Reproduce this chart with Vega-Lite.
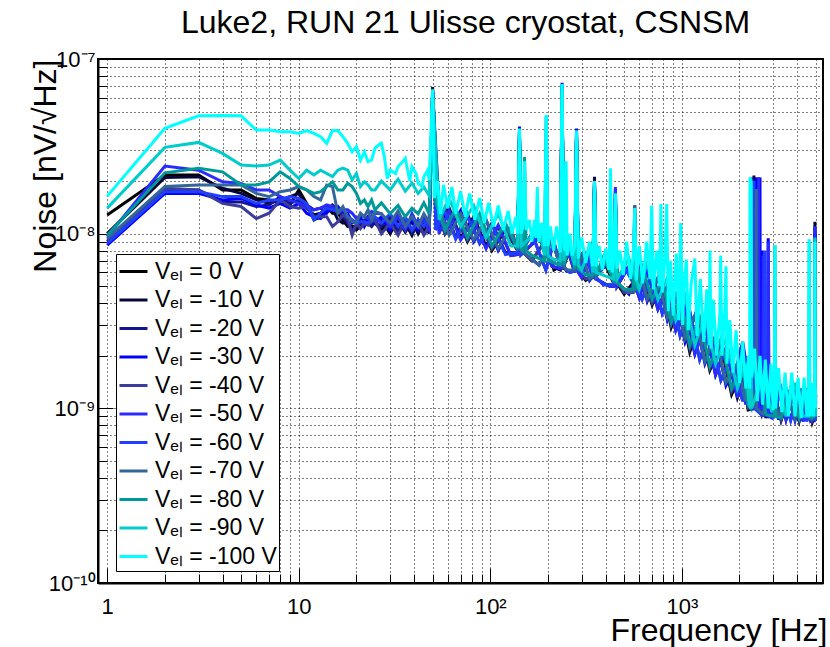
{
"$schema": "https://vega.github.io/schema/vega-lite/v6.json",
"autosize": "none",
"width": 725, "height": 524,
"padding": {"left": 98, "top": 59, "right": 7, "bottom": 64},
"background": "white",
"config": {"view": {"stroke": "black", "strokeWidth": 2}, "font": "Liberation Sans"},
"data": {"values": [
{"f":1,"s":"0","n":1.28e-8},{"f":2,"s":"0","n":2.17e-8},{"f":3,"s":"0","n":2.17e-8},{"f":4,"s":"0","n":1.78e-8},{"f":5,"s":"0","n":1.78e-8},{"f":6,"s":"0","n":1.59e-8},{"f":7,"s":"0","n":1.56e-8},{"f":8,"s":"0","n":1.49e-8},{"f":9,"s":"0","n":1.46e-8},{"f":10,"s":"0","n":1.78e-8},{"f":11,"s":"0","n":1.49e-8},{"f":12,"s":"0","n":1.2e-8},{"f":13,"s":"0","n":1.25e-8},{"f":14,"s":"0","n":1.43e-8},{"f":15,"s":"0","n":1.31e-8},{"f":16,"s":"0","n":1.31e-8},{"f":17,"s":"0","n":1.2e-8},{"f":18,"s":"0","n":1.1e-8},{"f":19,"s":"0","n":1.1e-8},{"f":20,"s":"0","n":1.1e-8},{"f":21,"s":"0","n":1.2e-8},{"f":22,"s":"0","n":1.17e-8},{"f":23,"s":"0","n":1.25e-8},{"f":24,"s":"0","n":1.15e-8},{"f":25,"s":"0","n":1.15e-8},{"f":27,"s":"0","n":1.05e-8},{"f":30,"s":"0","n":1.2e-8},{"f":33,"s":"0","n":1.0e-8},{"f":36,"s":"0","n":1.15e-8},{"f":39,"s":"0","n":9.8e-9},{"f":42,"s":"0","n":1.2e-8},{"f":45,"s":"0","n":1.05e-8},{"f":48,"s":"0","n":1.15e-8},
{"f":50,"s":"0","n":6.6e-8},{"f":52,"s":"0","n":1.45e-8},{"f":58,"s":"0","n":1.0e-8},{"f":66,"s":"0","n":1.3e-8},{"f":76,"s":"0","n":9e-9},{"f":88,"s":"0","n":1.2e-8},{"f":102,"s":"0","n":8e-9},{"f":120,"s":"0","n":1.05e-8},{"f":139,"s":"0","n":8e-9},{"f":142,"s":"0","n":3.6e-8},{"f":145,"s":"0","n":8e-9},{"f":165,"s":"0","n":7e-9},{"f":195,"s":"0","n":9.2e-9},{"f":215,"s":"0","n":6.2e-9},{"f":232,"s":"0","n":6.5e-9},{"f":237,"s":"0","n":6.8e-8},{"f":242,"s":"0","n":6.5e-9},{"f":260,"s":"0","n":8.2e-9},{"f":276,"s":"0","n":6.2e-9},{"f":282,"s":"0","n":3.7e-8},{"f":288,"s":"0","n":6.2e-9},{"f":315,"s":"0","n":5.4e-9},{"f":343,"s":"0","n":5.8e-9},{"f":350,"s":"0","n":2.0e-8},{"f":357,"s":"0","n":5.8e-9},{"f":390,"s":"0","n":7e-9},{"f":441,"s":"0","n":5.2e-9},{"f":450,"s":"0","n":1.6e-8},{"f":459,"s":"0","n":5.2e-9},{"f":500,"s":"0","n":4.5e-9},{"f":620,"s":"0","n":6.1e-9},{"f":700,"s":"0","n":3.9e-9},{"f":790,"s":"0","n":5.2e-9},{"f":880,"s":"0","n":2.9e-9},{"f":980,"s":"0","n":4.0e-9},{"f":1100,"s":"0","n":2.1e-9},{"f":1240,"s":"0","n":3.1e-9},{"f":1400,"s":"0","n":1.65e-9},{"f":1600,"s":"0","n":2.3e-9},{"f":1820,"s":"0","n":1.2e-9},{"f":2080,"s":"0","n":1.65e-9},{"f":2220,"s":"0","n":9.8e-10},{"f":2440,"s":"0","n":1.0e-9},{"f":2450,"s":"0","n":2.0e-8},{"f":2460,"s":"0","n":1.0e-9},{"f":2600,"s":"0","n":1.35e-9},{"f":2750,"s":"0","n":8.8e-10},{"f":3000,"s":"0","n":1.3e-9},{"f":3300,"s":"0","n":8.5e-10},{"f":3700,"s":"0","n":1.25e-9},{"f":4100,"s":"0","n":8.4e-10},{"f":4500,"s":"0","n":1.25e-9},{"f":4800,"s":"0","n":8.3e-10},{"f":4930,"s":"0","n":9e-10},{"f":4955,"s":"0","n":1.0e-8},{"f":4975,"s":"0","n":9e-10},{"f":5000,"s":"0","n":1.2e-9},
{"f":1,"s":"-10","n":1.0e-8},{"f":2,"s":"-10","n":2.1e-8},{"f":3,"s":"-10","n":2.12e-8},{"f":4,"s":"-10","n":1.82e-8},{"f":5,"s":"-10","n":1.7e-8},{"f":6,"s":"-10","n":1.56e-8},{"f":7,"s":"-10","n":1.49e-8},{"f":8,"s":"-10","n":1.56e-8},{"f":9,"s":"-10","n":1.63e-8},{"f":10,"s":"-10","n":1.7e-8},{"f":11,"s":"-10","n":1.4e-8},{"f":12,"s":"-10","n":1.28e-8},{"f":13,"s":"-10","n":1.31e-8},{"f":14,"s":"-10","n":1.37e-8},{"f":15,"s":"-10","n":1.4e-8},{"f":16,"s":"-10","n":1.2e-8},{"f":17,"s":"-10","n":1.15e-8},{"f":18,"s":"-10","n":1.17e-8},{"f":19,"s":"-10","n":1.05e-8},{"f":20,"s":"-10","n":1.05e-8},{"f":21,"s":"-10","n":1.1e-8},{"f":22,"s":"-10","n":1.15e-8},{"f":23,"s":"-10","n":1.17e-8},{"f":24,"s":"-10","n":1.2e-8},{"f":25,"s":"-10","n":1.22e-8},{"f":27,"s":"-10","n":1.2e-8},{"f":30,"s":"-10","n":1.0e-8},{"f":33,"s":"-10","n":1.2e-8},{"f":36,"s":"-10","n":1.02e-8},{"f":39,"s":"-10","n":1.18e-8},{"f":42,"s":"-10","n":1.0e-8},{"f":45,"s":"-10","n":1.15e-8},{"f":48,"s":"-10","n":1.0e-8},
{"f":50,"s":"-10","n":6.9e-8},{"f":54,"s":"-10","n":1.05e-8},{"f":61,"s":"-10","n":1.4e-8},{"f":70,"s":"-10","n":9.5e-9},{"f":82,"s":"-10","n":1.25e-8},{"f":95,"s":"-10","n":8.5e-9},{"f":110,"s":"-10","n":1.1e-8},{"f":128,"s":"-10","n":7.5e-9},{"f":139,"s":"-10","n":7.6e-9},{"f":142,"s":"-10","n":3.5e-8},{"f":145,"s":"-10","n":7.6e-9},{"f":180,"s":"-10","n":9.5e-9},{"f":210,"s":"-10","n":6.5e-9},{"f":232,"s":"-10","n":6.2e-9},{"f":237,"s":"-10","n":6.5e-8},{"f":242,"s":"-10","n":6.2e-9},{"f":250,"s":"-10","n":8.5e-9},{"f":276,"s":"-10","n":6.0e-9},{"f":282,"s":"-10","n":3.5e-8},{"f":288,"s":"-10","n":6.0e-9},{"f":300,"s":"-10","n":5.6e-9},{"f":330,"s":"-10","n":7.5e-9},{"f":343,"s":"-10","n":5.5e-9},{"f":350,"s":"-10","n":2.12e-8},{"f":357,"s":"-10","n":5.5e-9},{"f":420,"s":"-10","n":5.0e-9},{"f":441,"s":"-10","n":5.0e-9},{"f":450,"s":"-10","n":1.6e-8},{"f":459,"s":"-10","n":5.0e-9},{"f":530,"s":"-10","n":6.5e-9},{"f":600,"s":"-10","n":4.3e-9},{"f":660,"s":"-10","n":6.1e-9},{"f":750,"s":"-10","n":3.7e-9},{"f":840,"s":"-10","n":5.0e-9},{"f":930,"s":"-10","n":2.8e-9},{"f":1040,"s":"-10","n":3.8e-9},{"f":1170,"s":"-10","n":2.05e-9},{"f":1320,"s":"-10","n":3.0e-9},{"f":1500,"s":"-10","n":1.55e-9},{"f":1700,"s":"-10","n":2.2e-9},{"f":1950,"s":"-10","n":1.15e-9},{"f":2150,"s":"-10","n":1.6e-9},{"f":2250,"s":"-10","n":1.0e-9},{"f":2370,"s":"-10","n":1.0e-9},{"f":2380,"s":"-10","n":2.15e-8},{"f":2390,"s":"-10","n":1.0e-9},{"f":2415,"s":"-10","n":1.0e-9},{"f":2425,"s":"-10","n":2.0e-8},{"f":2435,"s":"-10","n":1.0e-9},{"f":2465,"s":"-10","n":1.0e-9},{"f":2475,"s":"-10","n":2.1e-8},{"f":2485,"s":"-10","n":1.0e-9},{"f":2510,"s":"-10","n":1.0e-9},{"f":2520,"s":"-10","n":2.1e-8},{"f":2530,"s":"-10","n":1.0e-9},{"f":2650,"s":"-10","n":1.4e-9},{"f":2950,"s":"-10","n":8.8e-10},{"f":3200,"s":"-10","n":1.3e-9},{"f":3500,"s":"-10","n":8.6e-10},{"f":3900,"s":"-10","n":1.3e-9},{"f":4300,"s":"-10","n":8.5e-10},{"f":4700,"s":"-10","n":1.25e-9},{"f":4930,"s":"-10","n":8.6e-10},{"f":4955,"s":"-10","n":1.17e-8},{"f":4975,"s":"-10","n":8.6e-10},{"f":5000,"s":"-10","n":9e-10},
{"f":1,"s":"-20","n":9.0e-9},{"f":2,"s":"-20","n":1.78e-8},{"f":3,"s":"-20","n":1.78e-8},{"f":4,"s":"-20","n":1.52e-8},{"f":5,"s":"-20","n":1.52e-8},{"f":6,"s":"-20","n":1.43e-8},{"f":7,"s":"-20","n":1.46e-8},{"f":8,"s":"-20","n":1.63e-8},{"f":9,"s":"-20","n":1.49e-8},{"f":10,"s":"-20","n":1.56e-8},{"f":11,"s":"-20","n":1.46e-8},{"f":12,"s":"-20","n":1.37e-8},{"f":13,"s":"-20","n":1.4e-8},{"f":14,"s":"-20","n":1.31e-8},{"f":15,"s":"-20","n":1.46e-8},{"f":16,"s":"-20","n":1.37e-8},{"f":17,"s":"-20","n":1.25e-8},{"f":18,"s":"-20","n":1.15e-8},{"f":19,"s":"-20","n":1.05e-8},{"f":20,"s":"-20","n":1.1e-8},{"f":21,"s":"-20","n":1.15e-8},{"f":22,"s":"-20","n":1.2e-8},{"f":23,"s":"-20","n":1.15e-8},{"f":24,"s":"-20","n":1.1e-8},{"f":25,"s":"-20","n":1.17e-8},{"f":27,"s":"-20","n":1.1e-8},{"f":30,"s":"-20","n":1.25e-8},{"f":33,"s":"-20","n":1.05e-8},{"f":36,"s":"-20","n":1.2e-8},{"f":39,"s":"-20","n":1.0e-8},{"f":42,"s":"-20","n":1.15e-8},{"f":45,"s":"-20","n":1.0e-8},{"f":48,"s":"-20","n":1.1e-8},
{"f":50,"s":"-20","n":6.4e-8},{"f":52,"s":"-20","n":1.05e-8},{"f":58,"s":"-20","n":1.4e-8},{"f":66,"s":"-20","n":9.5e-9},{"f":76,"s":"-20","n":1.3e-8},{"f":88,"s":"-20","n":8.8e-9},{"f":102,"s":"-20","n":1.15e-8},{"f":120,"s":"-20","n":7.8e-9},{"f":139,"s":"-20","n":7.8e-9},{"f":142,"s":"-20","n":3.8e-8},{"f":145,"s":"-20","n":7.8e-9},{"f":165,"s":"-20","n":1.0e-8},{"f":195,"s":"-20","n":6.2e-9},{"f":215,"s":"-20","n":9e-9},{"f":232,"s":"-20","n":6.4e-9},{"f":237,"s":"-20","n":6.6e-8},{"f":242,"s":"-20","n":6.4e-9},{"f":260,"s":"-20","n":6.0e-9},{"f":276,"s":"-20","n":6.1e-9},{"f":282,"s":"-20","n":3.6e-8},{"f":288,"s":"-20","n":6.1e-9},{"f":315,"s":"-20","n":7.6e-9},{"f":343,"s":"-20","n":5.6e-9},{"f":350,"s":"-20","n":1.9e-8},{"f":357,"s":"-20","n":5.6e-9},{"f":390,"s":"-20","n":5.1e-9},{"f":441,"s":"-20","n":5.1e-9},{"f":450,"s":"-20","n":1.5e-8},{"f":459,"s":"-20","n":5.1e-9},{"f":500,"s":"-20","n":6.6e-9},{"f":620,"s":"-20","n":4.2e-9},{"f":700,"s":"-20","n":6.0e-9},{"f":790,"s":"-20","n":3.5e-9},{"f":880,"s":"-20","n":4.7e-9},{"f":980,"s":"-20","n":2.6e-9},{"f":1100,"s":"-20","n":3.6e-9},{"f":1240,"s":"-20","n":1.9e-9},{"f":1400,"s":"-20","n":2.8e-9},{"f":1600,"s":"-20","n":1.45e-9},{"f":1820,"s":"-20","n":2.0e-9},{"f":2080,"s":"-20","n":1.1e-9},{"f":2220,"s":"-20","n":1.55e-9},{"f":2370,"s":"-20","n":1.0e-9},{"f":2380,"s":"-20","n":2.05e-8},{"f":2390,"s":"-20","n":1.0e-9},{"f":2490,"s":"-20","n":1.0e-9},{"f":2500,"s":"-20","n":2.0e-8},{"f":2510,"s":"-20","n":1.0e-9},{"f":2600,"s":"-20","n":9.2e-10},{"f":2750,"s":"-20","n":1.35e-9},{"f":3000,"s":"-20","n":8.8e-10},{"f":3300,"s":"-20","n":1.3e-9},{"f":3700,"s":"-20","n":8.6e-10},{"f":4100,"s":"-20","n":1.3e-9},{"f":4500,"s":"-20","n":8.5e-10},{"f":4800,"s":"-20","n":1.25e-9},{"f":4930,"s":"-20","n":8.5e-10},{"f":4955,"s":"-20","n":1.1e-8},{"f":4975,"s":"-20","n":8.5e-10},{"f":5000,"s":"-20","n":8.5e-10},
{"f":1,"s":"-30","n":8.6e-9},{"f":2,"s":"-30","n":1.7e-8},{"f":3,"s":"-30","n":1.7e-8},{"f":4,"s":"-30","n":1.56e-8},{"f":5,"s":"-30","n":1.59e-8},{"f":6,"s":"-30","n":1.46e-8},{"f":7,"s":"-30","n":1.4e-8},{"f":8,"s":"-30","n":1.49e-8},{"f":9,"s":"-30","n":1.4e-8},{"f":10,"s":"-30","n":1.49e-8},{"f":11,"s":"-30","n":1.31e-8},{"f":12,"s":"-30","n":1.25e-8},{"f":13,"s":"-30","n":1.22e-8},{"f":14,"s":"-30","n":1.34e-8},{"f":15,"s":"-30","n":1.37e-8},{"f":16,"s":"-30","n":1.43e-8},{"f":17,"s":"-30","n":1.31e-8},{"f":18,"s":"-30","n":1.31e-8},{"f":19,"s":"-30","n":1.15e-8},{"f":20,"s":"-30","n":1.17e-8},{"f":21,"s":"-30","n":1.25e-8},{"f":22,"s":"-30","n":1.1e-8},{"f":23,"s":"-30","n":1.2e-8},{"f":24,"s":"-30","n":1.25e-8},{"f":25,"s":"-30","n":1.15e-8},{"f":27,"s":"-30","n":1.25e-8},{"f":30,"s":"-30","n":1.05e-8},{"f":33,"s":"-30","n":1.3e-8},{"f":36,"s":"-30","n":1.1e-8},{"f":39,"s":"-30","n":1.2e-8},{"f":42,"s":"-30","n":1.05e-8},{"f":45,"s":"-30","n":1.25e-8},{"f":48,"s":"-30","n":1.05e-8},
{"f":50,"s":"-30","n":6.5e-8},{"f":54,"s":"-30","n":1.45e-8},{"f":61,"s":"-30","n":1.0e-8},{"f":70,"s":"-30","n":1.35e-8},{"f":82,"s":"-30","n":9e-9},{"f":95,"s":"-30","n":1.2e-8},{"f":110,"s":"-30","n":8e-9},{"f":128,"s":"-30","n":1.08e-8},{"f":139,"s":"-30","n":8e-9},{"f":142,"s":"-30","n":4.1e-8},{"f":145,"s":"-30","n":8e-9},{"f":180,"s":"-30","n":6.6e-9},{"f":210,"s":"-30","n":9.2e-9},{"f":232,"s":"-30","n":6.5e-9},{"f":237,"s":"-30","n":7.3e-8},{"f":242,"s":"-30","n":6.5e-9},{"f":250,"s":"-30","n":6.1e-9},{"f":276,"s":"-30","n":6.2e-9},{"f":282,"s":"-30","n":4.0e-8},{"f":288,"s":"-30","n":6.2e-9},{"f":300,"s":"-30","n":7.8e-9},{"f":330,"s":"-30","n":5.4e-9},{"f":343,"s":"-30","n":5.7e-9},{"f":350,"s":"-30","n":1.9e-8},{"f":357,"s":"-30","n":5.7e-9},{"f":420,"s":"-30","n":7.0e-9},{"f":441,"s":"-30","n":5.2e-9},{"f":450,"s":"-30","n":1.8e-8},{"f":459,"s":"-30","n":5.2e-9},{"f":530,"s":"-30","n":4.5e-9},{"f":600,"s":"-30","n":6.3e-9},{"f":660,"s":"-30","n":4.1e-9},{"f":750,"s":"-30","n":5.6e-9},{"f":840,"s":"-30","n":3.2e-9},{"f":930,"s":"-30","n":4.4e-9},{"f":1040,"s":"-30","n":2.4e-9},{"f":1170,"s":"-30","n":3.4e-9},{"f":1320,"s":"-30","n":1.8e-9},{"f":1500,"s":"-30","n":2.6e-9},{"f":1700,"s":"-30","n":1.35e-9},{"f":1950,"s":"-30","n":1.8e-9},{"f":2080,"s":"-30","n":2.4e-9},{"f":2150,"s":"-30","n":1.9e-9},{"f":2250,"s":"-30","n":1.5e-9},{"f":2290,"s":"-30","n":1.0e-9},{"f":2300,"s":"-30","n":2.1e-8},{"f":2310,"s":"-30","n":1.0e-9},{"f":2440,"s":"-30","n":1.0e-9},{"f":2450,"s":"-30","n":2.1e-8},{"f":2460,"s":"-30","n":1.0e-9},{"f":2550,"s":"-30","n":1.0e-9},{"f":2560,"s":"-30","n":2.1e-8},{"f":2570,"s":"-30","n":1.0e-9},{"f":2620,"s":"-30","n":1.0e-9},{"f":2630,"s":"-30","n":8e-9},{"f":2640,"s":"-30","n":1.0e-9},{"f":2650,"s":"-30","n":9.2e-10},{"f":2800,"s":"-30","n":9e-10},{"f":2826,"s":"-30","n":9.4e-9},{"f":2850,"s":"-30","n":9e-10},{"f":2950,"s":"-30","n":1.3e-9},{"f":3200,"s":"-30","n":8.6e-10},{"f":3500,"s":"-30","n":1.3e-9},{"f":3900,"s":"-30","n":8.5e-10},{"f":4300,"s":"-30","n":1.3e-9},{"f":4700,"s":"-30","n":8.5e-10},{"f":4930,"s":"-30","n":9e-10},{"f":4955,"s":"-30","n":1.0e-8},{"f":4975,"s":"-30","n":9e-10},{"f":5000,"s":"-30","n":1.1e-9},
{"f":1,"s":"-40","n":9.2e-9},{"f":2,"s":"-40","n":1.82e-8},{"f":3,"s":"-40","n":1.78e-8},{"f":4,"s":"-40","n":1.49e-8},{"f":5,"s":"-40","n":1.43e-8},{"f":6,"s":"-40","n":1.22e-8},{"f":7,"s":"-40","n":1.31e-8},{"f":8,"s":"-40","n":1.56e-8},{"f":9,"s":"-40","n":1.43e-8},{"f":10,"s":"-40","n":1.4e-8},{"f":11,"s":"-40","n":1.43e-8},{"f":12,"s":"-40","n":1.25e-8},{"f":13,"s":"-40","n":1.25e-8},{"f":14,"s":"-40","n":1.25e-8},{"f":15,"s":"-40","n":1.1e-8},{"f":16,"s":"-40","n":1.17e-8},{"f":17,"s":"-40","n":1.28e-8},{"f":18,"s":"-40","n":1.22e-8},{"f":19,"s":"-40","n":9.8e-9},{"f":20,"s":"-40","n":1.15e-8},{"f":21,"s":"-40","n":1.07e-8},{"f":22,"s":"-40","n":1.15e-8},{"f":23,"s":"-40","n":1.12e-8},{"f":24,"s":"-40","n":1.17e-8},{"f":25,"s":"-40","n":1.2e-8},{"f":27,"s":"-40","n":1.0e-8},{"f":30,"s":"-40","n":1.15e-8},{"f":33,"s":"-40","n":9.8e-9},{"f":36,"s":"-40","n":1.2e-8},{"f":39,"s":"-40","n":1.05e-8},{"f":42,"s":"-40","n":1.15e-8},{"f":45,"s":"-40","n":9.8e-9},{"f":48,"s":"-40","n":1.1e-8},
{"f":50,"s":"-40","n":6.2e-8},{"f":52,"s":"-40","n":1.4e-8},{"f":58,"s":"-40","n":1.0e-8},{"f":66,"s":"-40","n":1.3e-8},{"f":76,"s":"-40","n":9.2e-9},{"f":88,"s":"-40","n":1.2e-8},{"f":102,"s":"-40","n":8.2e-9},{"f":120,"s":"-40","n":1.1e-8},{"f":139,"s":"-40","n":8e-9},{"f":142,"s":"-40","n":3.4e-8},{"f":145,"s":"-40","n":8e-9},{"f":165,"s":"-40","n":7.0e-9},{"f":195,"s":"-40","n":9.2e-9},{"f":215,"s":"-40","n":6.4e-9},{"f":232,"s":"-40","n":6.5e-9},{"f":237,"s":"-40","n":6.2e-8},{"f":242,"s":"-40","n":6.5e-9},{"f":260,"s":"-40","n":8.4e-9},{"f":276,"s":"-40","n":6.2e-9},{"f":282,"s":"-40","n":3.4e-8},{"f":288,"s":"-40","n":6.2e-9},{"f":315,"s":"-40","n":5.5e-9},{"f":343,"s":"-40","n":5.7e-9},{"f":350,"s":"-40","n":1.8e-8},{"f":357,"s":"-40","n":5.7e-9},{"f":390,"s":"-40","n":7.1e-9},{"f":500,"s":"-40","n":4.6e-9},{"f":557,"s":"-40","n":4.6e-9},{"f":568,"s":"-40","n":1.45e-8},{"f":579,"s":"-40","n":4.6e-9},{"f":620,"s":"-40","n":6.2e-9},{"f":700,"s":"-40","n":4.0e-9},{"f":790,"s":"-40","n":5.3e-9},{"f":880,"s":"-40","n":3.0e-9},{"f":980,"s":"-40","n":4.1e-9},{"f":1100,"s":"-40","n":2.2e-9},{"f":1240,"s":"-40","n":3.2e-9},{"f":1400,"s":"-40","n":1.7e-9},{"f":1600,"s":"-40","n":2.4e-9},{"f":1820,"s":"-40","n":1.25e-9},{"f":2080,"s":"-40","n":1.7e-9},{"f":2220,"s":"-40","n":1.0e-9},{"f":2290,"s":"-40","n":1.0e-9},{"f":2300,"s":"-40","n":1.5e-8},{"f":2310,"s":"-40","n":1.0e-9},{"f":2600,"s":"-40","n":1.4e-9},{"f":2750,"s":"-40","n":9e-10},{"f":3000,"s":"-40","n":1.3e-9},{"f":3300,"s":"-40","n":8.6e-10},{"f":3700,"s":"-40","n":1.3e-9},{"f":4100,"s":"-40","n":8.6e-10},{"f":4500,"s":"-40","n":1.3e-9},{"f":4800,"s":"-40","n":8.5e-10},{"f":4930,"s":"-40","n":9e-10},{"f":4955,"s":"-40","n":9e-9},{"f":4975,"s":"-40","n":9e-10},{"f":5000,"s":"-40","n":1.2e-9},
{"f":1,"s":"-50","n":9.6e-9},{"f":2,"s":"-50","n":2.44e-8},{"f":3,"s":"-50","n":2.31e-8},{"f":4,"s":"-50","n":1.98e-8},{"f":5,"s":"-50","n":1.94e-8},{"f":6,"s":"-50","n":1.78e-8},{"f":7,"s":"-50","n":1.78e-8},{"f":8,"s":"-50","n":1.63e-8},{"f":9,"s":"-50","n":1.56e-8},{"f":10,"s":"-50","n":1.49e-8},{"f":11,"s":"-50","n":1.43e-8},{"f":12,"s":"-50","n":1.37e-8},{"f":13,"s":"-50","n":1.4e-8},{"f":14,"s":"-50","n":1.46e-8},{"f":15,"s":"-50","n":1.43e-8},{"f":16,"s":"-50","n":1.31e-8},{"f":17,"s":"-50","n":1.37e-8},{"f":18,"s":"-50","n":1.37e-8},{"f":19,"s":"-50","n":1.31e-8},{"f":20,"s":"-50","n":1.22e-8},{"f":21,"s":"-50","n":1.28e-8},{"f":22,"s":"-50","n":1.25e-8},{"f":23,"s":"-50","n":1.22e-8},{"f":24,"s":"-50","n":1.34e-8},{"f":25,"s":"-50","n":1.31e-8},{"f":27,"s":"-50","n":1.3e-8},{"f":30,"s":"-50","n":1.1e-8},{"f":33,"s":"-50","n":1.25e-8},{"f":36,"s":"-50","n":1.05e-8},{"f":39,"s":"-50","n":1.3e-8},{"f":42,"s":"-50","n":1.1e-8},{"f":45,"s":"-50","n":1.2e-8},{"f":48,"s":"-50","n":1.05e-8},
{"f":50,"s":"-50","n":6.3e-8},{"f":54,"s":"-50","n":1.0e-8},{"f":61,"s":"-50","n":1.35e-8},{"f":70,"s":"-50","n":9.2e-9},{"f":82,"s":"-50","n":1.2e-8},{"f":95,"s":"-50","n":8.2e-9},{"f":110,"s":"-50","n":1.12e-8},{"f":128,"s":"-50","n":7.5e-9},{"f":139,"s":"-50","n":7.6e-9},{"f":142,"s":"-50","n":3.9e-8},{"f":145,"s":"-50","n":7.6e-9},{"f":180,"s":"-50","n":9.6e-9},{"f":210,"s":"-50","n":6.5e-9},{"f":232,"s":"-50","n":6.3e-9},{"f":237,"s":"-50","n":7.0e-8},{"f":242,"s":"-50","n":6.3e-9},{"f":250,"s":"-50","n":8.5e-9},{"f":276,"s":"-50","n":6.0e-9},{"f":282,"s":"-50","n":3.8e-8},{"f":288,"s":"-50","n":6.0e-9},{"f":300,"s":"-50","n":5.6e-9},{"f":330,"s":"-50","n":7.5e-9},{"f":343,"s":"-50","n":5.5e-9},{"f":350,"s":"-50","n":1.8e-8},{"f":357,"s":"-50","n":5.5e-9},{"f":420,"s":"-50","n":5.0e-9},{"f":441,"s":"-50","n":5.0e-9},{"f":450,"s":"-50","n":1.85e-8},{"f":459,"s":"-50","n":5.0e-9},{"f":530,"s":"-50","n":6.5e-9},{"f":600,"s":"-50","n":4.3e-9},{"f":660,"s":"-50","n":6.1e-9},{"f":750,"s":"-50","n":3.7e-9},{"f":840,"s":"-50","n":5.0e-9},{"f":930,"s":"-50","n":2.8e-9},{"f":1040,"s":"-50","n":3.8e-9},{"f":1170,"s":"-50","n":2.05e-9},{"f":1320,"s":"-50","n":3.0e-9},{"f":1500,"s":"-50","n":1.55e-9},{"f":1700,"s":"-50","n":2.2e-9},{"f":1950,"s":"-50","n":1.15e-9},{"f":2080,"s":"-50","n":2.2e-9},{"f":2150,"s":"-50","n":1.05e-9},{"f":2250,"s":"-50","n":1.5e-9},{"f":2510,"s":"-50","n":1.0e-9},{"f":2520,"s":"-50","n":2.1e-8},{"f":2530,"s":"-50","n":1.0e-9},{"f":2640,"s":"-50","n":1.0e-9},{"f":2660,"s":"-50","n":7.5e-9},{"f":2680,"s":"-50","n":1.0e-9},{"f":2800,"s":"-50","n":9e-10},{"f":2826,"s":"-50","n":9.0e-9},{"f":2850,"s":"-50","n":9e-10},{"f":2950,"s":"-50","n":8.8e-10},{"f":3200,"s":"-50","n":1.3e-9},{"f":3500,"s":"-50","n":8.6e-10},{"f":3900,"s":"-50","n":1.3e-9},{"f":4300,"s":"-50","n":8.4e-10},{"f":4700,"s":"-50","n":1.25e-9},{"f":4930,"s":"-50","n":8.5e-10},{"f":4955,"s":"-50","n":1.1e-8},{"f":4975,"s":"-50","n":8.5e-10},{"f":5000,"s":"-50","n":1.0e-9},
{"f":1,"s":"-60","n":8.8e-9},{"f":2,"s":"-60","n":1.74e-8},{"f":3,"s":"-60","n":1.74e-8},{"f":4,"s":"-60","n":1.63e-8},{"f":5,"s":"-60","n":1.63e-8},{"f":6,"s":"-60","n":1.49e-8},{"f":7,"s":"-60","n":1.56e-8},{"f":8,"s":"-60","n":1.56e-8},{"f":9,"s":"-60","n":1.63e-8},{"f":10,"s":"-60","n":1.59e-8},{"f":11,"s":"-60","n":1.49e-8},{"f":12,"s":"-60","n":1.2e-8},{"f":13,"s":"-60","n":1.31e-8},{"f":14,"s":"-60","n":1.4e-8},{"f":15,"s":"-60","n":1.37e-8},{"f":16,"s":"-60","n":1.34e-8},{"f":17,"s":"-60","n":1.4e-8},{"f":18,"s":"-60","n":1.25e-8},{"f":19,"s":"-60","n":1.2e-8},{"f":20,"s":"-60","n":1.15e-8},{"f":21,"s":"-60","n":1.17e-8},{"f":22,"s":"-60","n":1.17e-8},{"f":23,"s":"-60","n":1.15e-8},{"f":24,"s":"-60","n":1.2e-8},{"f":25,"s":"-60","n":1.25e-8},{"f":27,"s":"-60","n":1.15e-8},{"f":30,"s":"-60","n":1.3e-8},{"f":33,"s":"-60","n":1.1e-8},{"f":36,"s":"-60","n":1.25e-8},{"f":39,"s":"-60","n":1.05e-8},{"f":42,"s":"-60","n":1.2e-8},{"f":45,"s":"-60","n":1.1e-8},{"f":48,"s":"-60","n":1.25e-8},
{"f":50,"s":"-60","n":6.4e-8},{"f":52,"s":"-60","n":1.05e-8},{"f":58,"s":"-60","n":1.35e-8},{"f":66,"s":"-60","n":9.3e-9},{"f":76,"s":"-60","n":1.25e-8},{"f":88,"s":"-60","n":8.8e-9},{"f":102,"s":"-60","n":1.12e-8},{"f":120,"s":"-60","n":7.6e-9},{"f":139,"s":"-60","n":7.8e-9},{"f":142,"s":"-60","n":3.7e-8},{"f":145,"s":"-60","n":7.8e-9},{"f":165,"s":"-60","n":1.0e-8},{"f":195,"s":"-60","n":6.2e-9},{"f":215,"s":"-60","n":9.0e-9},{"f":232,"s":"-60","n":6.4e-9},{"f":237,"s":"-60","n":6.9e-8},{"f":242,"s":"-60","n":6.4e-9},{"f":260,"s":"-60","n":6.0e-9},{"f":276,"s":"-60","n":6.1e-9},{"f":282,"s":"-60","n":3.9e-8},{"f":288,"s":"-60","n":6.1e-9},{"f":315,"s":"-60","n":7.5e-9},{"f":343,"s":"-60","n":5.6e-9},{"f":350,"s":"-60","n":1.95e-8},{"f":357,"s":"-60","n":5.6e-9},{"f":390,"s":"-60","n":5.1e-9},{"f":441,"s":"-60","n":5.1e-9},{"f":450,"s":"-60","n":1.75e-8},{"f":459,"s":"-60","n":5.1e-9},{"f":500,"s":"-60","n":6.5e-9},{"f":620,"s":"-60","n":4.2e-9},{"f":700,"s":"-60","n":6.0e-9},{"f":790,"s":"-60","n":3.5e-9},{"f":880,"s":"-60","n":4.6e-9},{"f":980,"s":"-60","n":2.6e-9},{"f":1100,"s":"-60","n":3.6e-9},{"f":1240,"s":"-60","n":1.9e-9},{"f":1400,"s":"-60","n":2.8e-9},{"f":1600,"s":"-60","n":1.45e-9},{"f":1820,"s":"-60","n":2.0e-9},{"f":2080,"s":"-60","n":1.1e-9},{"f":2220,"s":"-60","n":1.5e-9},{"f":2370,"s":"-60","n":1.0e-9},{"f":2380,"s":"-60","n":2.0e-8},{"f":2390,"s":"-60","n":1.0e-9},{"f":2600,"s":"-60","n":9.2e-10},{"f":2700,"s":"-60","n":1.0e-9},{"f":2720,"s":"-60","n":8e-9},{"f":2740,"s":"-60","n":1.0e-9},{"f":2750,"s":"-60","n":1.35e-9},{"f":3000,"s":"-60","n":8.8e-10},{"f":3300,"s":"-60","n":1.3e-9},{"f":3700,"s":"-60","n":8.5e-10},{"f":4100,"s":"-60","n":1.25e-9},{"f":4500,"s":"-60","n":8.4e-10},{"f":4800,"s":"-60","n":1.25e-9},{"f":4930,"s":"-60","n":8.5e-10},{"f":4955,"s":"-60","n":9.5e-9},{"f":4975,"s":"-60","n":8.5e-10},{"f":5000,"s":"-60","n":9e-10},
{"f":1,"s":"-70","n":9.4e-9},{"f":2,"s":"-70","n":1.86e-8},{"f":3,"s":"-70","n":1.9e-8},{"f":4,"s":"-70","n":1.9e-8},{"f":5,"s":"-70","n":1.9e-8},{"f":6,"s":"-70","n":1.7e-8},{"f":7,"s":"-70","n":1.63e-8},{"f":8,"s":"-70","n":1.74e-8},{"f":9,"s":"-70","n":1.78e-8},{"f":10,"s":"-70","n":1.86e-8},{"f":11,"s":"-70","n":1.78e-8},{"f":12,"s":"-70","n":1.63e-8},{"f":13,"s":"-70","n":1.56e-8},{"f":14,"s":"-70","n":1.9e-8},{"f":15,"s":"-70","n":1.86e-8},{"f":16,"s":"-70","n":1.31e-8},{"f":17,"s":"-70","n":1.43e-8},{"f":18,"s":"-70","n":1.25e-8},{"f":19,"s":"-70","n":1.17e-8},{"f":20,"s":"-70","n":1.15e-8},{"f":21,"s":"-70","n":1.31e-8},{"f":22,"s":"-70","n":1.25e-8},{"f":23,"s":"-70","n":1.37e-8},{"f":24,"s":"-70","n":1.2e-8},{"f":25,"s":"-70","n":1.34e-8},{"f":27,"s":"-70","n":1.3e-8},{"f":30,"s":"-70","n":1.15e-8},{"f":33,"s":"-70","n":1.35e-8},{"f":36,"s":"-70","n":1.1e-8},{"f":39,"s":"-70","n":1.25e-8},{"f":42,"s":"-70","n":1.1e-8},{"f":45,"s":"-70","n":1.3e-8},{"f":48,"s":"-70","n":1.15e-8},
{"f":50,"s":"-70","n":6.1e-8},{"f":54,"s":"-70","n":1.4e-8},{"f":61,"s":"-70","n":9.8e-9},{"f":70,"s":"-70","n":1.3e-8},{"f":82,"s":"-70","n":9.2e-9},{"f":95,"s":"-70","n":1.2e-8},{"f":110,"s":"-70","n":8.2e-9},{"f":128,"s":"-70","n":1.08e-8},{"f":139,"s":"-70","n":8e-9},{"f":142,"s":"-70","n":3.3e-8},{"f":145,"s":"-70","n":8e-9},{"f":180,"s":"-70","n":6.6e-9},{"f":210,"s":"-70","n":9.2e-9},{"f":232,"s":"-70","n":6.5e-9},{"f":237,"s":"-70","n":6.0e-8},{"f":242,"s":"-70","n":6.5e-9},{"f":250,"s":"-70","n":6.2e-9},{"f":276,"s":"-70","n":6.2e-9},{"f":282,"s":"-70","n":3.3e-8},{"f":288,"s":"-70","n":6.2e-9},{"f":300,"s":"-70","n":7.8e-9},{"f":330,"s":"-70","n":5.5e-9},{"f":343,"s":"-70","n":5.7e-9},{"f":350,"s":"-70","n":1.7e-8},{"f":357,"s":"-70","n":5.7e-9},{"f":420,"s":"-70","n":7.2e-9},{"f":441,"s":"-70","n":5.2e-9},{"f":450,"s":"-70","n":1.4e-8},{"f":459,"s":"-70","n":5.2e-9},{"f":530,"s":"-70","n":4.6e-9},{"f":557,"s":"-70","n":4.7e-9},{"f":568,"s":"-70","n":1.46e-8},{"f":579,"s":"-70","n":4.7e-9},{"f":600,"s":"-70","n":6.3e-9},{"f":660,"s":"-70","n":4.2e-9},{"f":750,"s":"-70","n":5.6e-9},{"f":840,"s":"-70","n":3.3e-9},{"f":930,"s":"-70","n":4.4e-9},{"f":1040,"s":"-70","n":2.5e-9},{"f":1170,"s":"-70","n":3.4e-9},{"f":1320,"s":"-70","n":1.85e-9},{"f":1500,"s":"-70","n":2.6e-9},{"f":1700,"s":"-70","n":1.4e-9},{"f":1950,"s":"-70","n":1.8e-9},{"f":2150,"s":"-70","n":1.1e-9},{"f":2250,"s":"-70","n":1.5e-9},{"f":2440,"s":"-70","n":1.0e-9},{"f":2450,"s":"-70","n":1.8e-8},{"f":2460,"s":"-70","n":1.0e-9},{"f":2650,"s":"-70","n":9.3e-10},{"f":2950,"s":"-70","n":1.3e-9},{"f":3200,"s":"-70","n":8.8e-10},{"f":3500,"s":"-70","n":1.3e-9},{"f":3900,"s":"-70","n":8.7e-10},{"f":4300,"s":"-70","n":1.3e-9},{"f":4700,"s":"-70","n":8.7e-10},{"f":4930,"s":"-70","n":9e-10},{"f":4955,"s":"-70","n":9e-9},{"f":4975,"s":"-70","n":9e-10},{"f":5000,"s":"-70","n":9.5e-10},
{"f":1,"s":"-80","n":9.8e-9},{"f":2,"s":"-80","n":2.23e-8},{"f":3,"s":"-80","n":2.37e-8},{"f":4,"s":"-80","n":2.26e-8},{"f":5,"s":"-80","n":1.9e-8},{"f":6,"s":"-80","n":1.9e-8},{"f":7,"s":"-80","n":1.98e-8},{"f":8,"s":"-80","n":2.26e-8},{"f":9,"s":"-80","n":2.07e-8},{"f":10,"s":"-80","n":1.86e-8},{"f":11,"s":"-80","n":1.78e-8},{"f":12,"s":"-80","n":1.7e-8},{"f":13,"s":"-80","n":1.74e-8},{"f":14,"s":"-80","n":1.86e-8},{"f":15,"s":"-80","n":1.98e-8},{"f":16,"s":"-80","n":1.78e-8},{"f":17,"s":"-80","n":1.78e-8},{"f":18,"s":"-80","n":1.94e-8},{"f":19,"s":"-80","n":1.86e-8},{"f":20,"s":"-80","n":1.7e-8},{"f":21,"s":"-80","n":1.49e-8},{"f":22,"s":"-80","n":1.56e-8},{"f":23,"s":"-80","n":1.43e-8},{"f":24,"s":"-80","n":1.56e-8},{"f":25,"s":"-80","n":1.37e-8},{"f":27,"s":"-80","n":1.5e-8},{"f":30,"s":"-80","n":1.3e-8},{"f":33,"s":"-80","n":1.45e-8},{"f":36,"s":"-80","n":1.25e-8},{"f":39,"s":"-80","n":1.4e-8},{"f":42,"s":"-80","n":1.3e-8},{"f":45,"s":"-80","n":1.5e-8},{"f":48,"s":"-80","n":1.3e-8},
{"f":50,"s":"-80","n":6.0e-8},{"f":52,"s":"-80","n":1.5e-8},{"f":58,"s":"-80","n":1.05e-8},{"f":66,"s":"-80","n":1.4e-8},{"f":76,"s":"-80","n":9.5e-9},{"f":88,"s":"-80","n":1.3e-8},{"f":102,"s":"-80","n":8.5e-9},{"f":120,"s":"-80","n":1.15e-8},{"f":139,"s":"-80","n":8.2e-9},{"f":142,"s":"-80","n":3.5e-8},{"f":145,"s":"-80","n":8.2e-9},{"f":148,"s":"-80","n":8e-9},{"f":151,"s":"-80","n":2.75e-8},{"f":154,"s":"-80","n":8e-9},{"f":165,"s":"-80","n":7.5e-9},{"f":192,"s":"-80","n":7e-9},{"f":196,"s":"-80","n":4.7e-8},{"f":200,"s":"-80","n":7e-9},{"f":215,"s":"-80","n":6.8e-9},{"f":232,"s":"-80","n":6.6e-9},{"f":237,"s":"-80","n":6.5e-8},{"f":242,"s":"-80","n":6.6e-9},{"f":260,"s":"-80","n":8.8e-9},{"f":276,"s":"-80","n":6.3e-9},{"f":282,"s":"-80","n":3.6e-8},{"f":288,"s":"-80","n":6.3e-9},{"f":315,"s":"-80","n":5.8e-9},{"f":343,"s":"-80","n":5.8e-9},{"f":350,"s":"-80","n":1.8e-8},{"f":357,"s":"-80","n":5.8e-9},{"f":390,"s":"-80","n":7.4e-9},{"f":441,"s":"-80","n":5.3e-9},{"f":450,"s":"-80","n":1.6e-8},{"f":459,"s":"-80","n":5.3e-9},{"f":500,"s":"-80","n":4.8e-9},{"f":557,"s":"-80","n":4.8e-9},{"f":568,"s":"-80","n":1.3e-8},{"f":579,"s":"-80","n":4.8e-9},{"f":620,"s":"-80","n":6.5e-9},{"f":700,"s":"-80","n":4.2e-9},{"f":790,"s":"-80","n":5.5e-9},{"f":880,"s":"-80","n":3.1e-9},{"f":980,"s":"-80","n":4.3e-9},{"f":1100,"s":"-80","n":2.3e-9},{"f":1240,"s":"-80","n":3.3e-9},{"f":1400,"s":"-80","n":1.75e-9},{"f":1600,"s":"-80","n":2.5e-9},{"f":1820,"s":"-80","n":1.3e-9},{"f":2080,"s":"-80","n":1.75e-9},{"f":2220,"s":"-80","n":1.05e-9},{"f":2290,"s":"-80","n":1.0e-9},{"f":2300,"s":"-80","n":1.9e-8},{"f":2310,"s":"-80","n":1.0e-9},{"f":2600,"s":"-80","n":1.4e-9},{"f":2750,"s":"-80","n":9.2e-10},{"f":3040,"s":"-80","n":9e-10},{"f":3063,"s":"-80","n":8.6e-9},{"f":3090,"s":"-80","n":9e-10},{"f":3300,"s":"-80","n":8.8e-10},{"f":3700,"s":"-80","n":1.3e-9},{"f":4100,"s":"-80","n":8.8e-10},{"f":4500,"s":"-80","n":1.3e-9},{"f":4800,"s":"-80","n":8.8e-10},{"f":4930,"s":"-80","n":9e-10},{"f":4955,"s":"-80","n":9e-9},{"f":4975,"s":"-80","n":9e-10},{"f":5000,"s":"-80","n":1.0e-9},
{"f":1,"s":"-90","n":1.4e-8},{"f":2,"s":"-90","n":3.12e-8},{"f":3,"s":"-90","n":3.33e-8},{"f":4,"s":"-90","n":2.88e-8},{"f":5,"s":"-90","n":2.47e-8},{"f":6,"s":"-90","n":2.44e-8},{"f":7,"s":"-90","n":2.47e-8},{"f":8,"s":"-90","n":2.64e-8},{"f":9,"s":"-90","n":2.31e-8},{"f":10,"s":"-90","n":2.07e-8},{"f":11,"s":"-90","n":2.31e-8},{"f":12,"s":"-90","n":2.17e-8},{"f":13,"s":"-90","n":2.31e-8},{"f":14,"s":"-90","n":2.21e-8},{"f":15,"s":"-90","n":2.12e-8},{"f":16,"s":"-90","n":2.31e-8},{"f":17,"s":"-90","n":2.37e-8},{"f":18,"s":"-90","n":2.31e-8},{"f":19,"s":"-90","n":2.03e-8},{"f":20,"s":"-90","n":2.21e-8},{"f":21,"s":"-90","n":1.86e-8},{"f":22,"s":"-90","n":1.98e-8},{"f":23,"s":"-90","n":1.9e-8},{"f":24,"s":"-90","n":1.78e-8},{"f":25,"s":"-90","n":1.78e-8},{"f":27,"s":"-90","n":2.0e-8},{"f":30,"s":"-90","n":1.78e-8},{"f":33,"s":"-90","n":2.05e-8},{"f":36,"s":"-90","n":1.75e-8},{"f":39,"s":"-90","n":1.95e-8},{"f":42,"s":"-90","n":1.7e-8},{"f":45,"s":"-90","n":1.85e-8},{"f":48,"s":"-90","n":1.65e-8},
{"f":50,"s":"-90","n":6.6e-8},{"f":54,"s":"-90","n":1.2e-8},{"f":61,"s":"-90","n":1.6e-8},{"f":70,"s":"-90","n":1.1e-8},{"f":82,"s":"-90","n":1.45e-8},{"f":95,"s":"-90","n":9.5e-9},{"f":110,"s":"-90","n":1.3e-8},{"f":128,"s":"-90","n":8.5e-9},{"f":139,"s":"-90","n":8.5e-9},{"f":142,"s":"-90","n":3.9e-8},{"f":145,"s":"-90","n":8.5e-9},{"f":180,"s":"-90","n":1.05e-8},{"f":192,"s":"-90","n":7.5e-9},{"f":196,"s":"-90","n":4.7e-8},{"f":200,"s":"-90","n":7.5e-9},{"f":210,"s":"-90","n":7.2e-9},{"f":232,"s":"-90","n":7e-9},{"f":237,"s":"-90","n":7.1e-8},{"f":242,"s":"-90","n":7e-9},{"f":250,"s":"-90","n":9.5e-9},{"f":276,"s":"-90","n":6.6e-9},{"f":282,"s":"-90","n":3.8e-8},{"f":288,"s":"-90","n":6.6e-9},{"f":300,"s":"-90","n":6.2e-9},{"f":330,"s":"-90","n":8.2e-9},{"f":343,"s":"-90","n":6e-9},{"f":350,"s":"-90","n":1.9e-8},{"f":357,"s":"-90","n":6e-9},{"f":420,"s":"-90","n":5.6e-9},{"f":441,"s":"-90","n":5.5e-9},{"f":450,"s":"-90","n":1.7e-8},{"f":459,"s":"-90","n":5.5e-9},{"f":530,"s":"-90","n":7.2e-9},{"f":600,"s":"-90","n":4.8e-9},{"f":660,"s":"-90","n":6.8e-9},{"f":750,"s":"-90","n":4.2e-9},{"f":840,"s":"-90","n":5.6e-9},{"f":930,"s":"-90","n":3.2e-9},{"f":1040,"s":"-90","n":4.4e-9},{"f":1170,"s":"-90","n":2.3e-9},{"f":1320,"s":"-90","n":3.4e-9},{"f":1500,"s":"-90","n":1.8e-9},{"f":1700,"s":"-90","n":2.5e-9},{"f":1950,"s":"-90","n":1.3e-9},{"f":2150,"s":"-90","n":1.8e-9},{"f":2250,"s":"-90","n":1.05e-9},{"f":2290,"s":"-90","n":1.0e-9},{"f":2300,"s":"-90","n":2.0e-8},{"f":2310,"s":"-90","n":1.0e-9},{"f":2650,"s":"-90","n":1.5e-9},{"f":2950,"s":"-90","n":9.5e-10},{"f":3200,"s":"-90","n":1.4e-9},{"f":3500,"s":"-90","n":9e-10},{"f":3900,"s":"-90","n":1.4e-9},{"f":4300,"s":"-90","n":9e-10},{"f":4590,"s":"-90","n":9e-10},{"f":4624,"s":"-90","n":9e-9},{"f":4660,"s":"-90","n":9e-10},{"f":4700,"s":"-90","n":1.4e-9},{"f":4930,"s":"-90","n":9e-10},{"f":4955,"s":"-90","n":9.5e-9},{"f":4975,"s":"-90","n":9e-10},{"f":5000,"s":"-90","n":1.1e-9},
{"f":1,"s":"-100","n":1.64e-8},{"f":2,"s":"-100","n":4.01e-8},{"f":3,"s":"-100","n":4.73e-8},{"f":4,"s":"-100","n":4.75e-8},{"f":5,"s":"-100","n":4.73e-8},{"f":6,"s":"-100","n":3.92e-8},{"f":7,"s":"-100","n":3.92e-8},{"f":8,"s":"-100","n":3.83e-8},{"f":9,"s":"-100","n":3.83e-8},{"f":10,"s":"-100","n":3.75e-8},{"f":11,"s":"-100","n":3.89e-8},{"f":12,"s":"-100","n":3.75e-8},{"f":13,"s":"-100","n":3.59e-8},{"f":14,"s":"-100","n":3.29e-8},{"f":15,"s":"-100","n":3.89e-8},{"f":16,"s":"-100","n":3.89e-8},{"f":17,"s":"-100","n":3.59e-8},{"f":18,"s":"-100","n":3.29e-8},{"f":19,"s":"-100","n":2.94e-8},{"f":20,"s":"-100","n":3.15e-8},{"f":21,"s":"-100","n":2.64e-8},{"f":22,"s":"-100","n":2.94e-8},{"f":23,"s":"-100","n":2.58e-8},{"f":24,"s":"-100","n":2.64e-8},{"f":25,"s":"-100","n":3.08e-8},{"f":26,"s":"-100","n":3.21e-8},{"f":27,"s":"-100","n":3.3e-8},{"f":28,"s":"-100","n":2.75e-8},{"f":29,"s":"-100","n":2.07e-8},{"f":30,"s":"-100","n":2.31e-8},{"f":32,"s":"-100","n":2.21e-8},{"f":33,"s":"-100","n":2.42e-8},{"f":35,"s":"-100","n":2.6e-8},{"f":36,"s":"-100","n":2.7e-8},{"f":38,"s":"-100","n":2.0e-8},{"f":39,"s":"-100","n":2.42e-8},{"f":41,"s":"-100","n":2.2e-8},{"f":42,"s":"-100","n":1.94e-8},{"f":44,"s":"-100","n":1.86e-8},{"f":45,"s":"-100","n":2.12e-8},{"f":47,"s":"-100","n":2.3e-8},{"f":48,"s":"-100","n":2.03e-8},
{"f":50,"s":"-100","n":6.7e-8},{"f":51,"s":"-100","n":1.6e-8},{"f":53,"s":"-100","n":2.0e-8},{"f":55,"s":"-100","n":1.3e-8},{"f":57,"s":"-100","n":1.9e-8},{"f":60,"s":"-100","n":1.4e-8},{"f":63,"s":"-100","n":1.85e-8},{"f":66,"s":"-100","n":1.3e-8},{"f":70,"s":"-100","n":1.75e-8},{"f":74,"s":"-100","n":1.25e-8},{"f":78,"s":"-100","n":1.7e-8},{"f":83,"s":"-100","n":1.2e-8},{"f":88,"s":"-100","n":1.6e-8},{"f":93,"s":"-100","n":1.15e-8},{"f":98,"s":"-100","n":1.5e-8},{"f":104,"s":"-100","n":1.1e-8},{"f":110,"s":"-100","n":1.45e-8},{"f":117,"s":"-100","n":1.05e-8},{"f":124,"s":"-100","n":1.35e-8},{"f":130,"s":"-100","n":1.0e-8},{"f":136,"s":"-100","n":1.25e-8},{"f":139,"s":"-100","n":1.0e-8},{"f":142,"s":"-100","n":4.0e-8},{"f":145,"s":"-100","n":1.0e-8},{"f":148,"s":"-100","n":1.1e-8},{"f":151,"s":"-100","n":2.6e-8},{"f":154,"s":"-100","n":1.05e-8},{"f":160,"s":"-100","n":1.2e-8},{"f":165,"s":"-100","n":9e-9},{"f":170,"s":"-100","n":1.2e-8},{"f":173,"s":"-100","n":9.5e-9},{"f":176,"s":"-100","n":1.85e-8},{"f":179,"s":"-100","n":9e-9},{"f":185,"s":"-100","n":1.15e-8},{"f":192,"s":"-100","n":8.5e-9},{"f":196,"s":"-100","n":4.8e-8},{"f":200,"s":"-100","n":8.5e-9},{"f":206,"s":"-100","n":1.1e-8},{"f":214,"s":"-100","n":8e-9},{"f":222,"s":"-100","n":1.1e-8},{"f":232,"s":"-100","n":7.8e-9},{"f":237,"s":"-100","n":7.2e-8},{"f":242,"s":"-100","n":8.5e-9},{"f":246,"s":"-100","n":8e-9},{"f":249,"s":"-100","n":2.6e-8},{"f":252,"s":"-100","n":7.5e-9},{"f":260,"s":"-100","n":1.0e-8},{"f":268,"s":"-100","n":7.5e-9},{"f":276,"s":"-100","n":8.5e-9},{"f":282,"s":"-100","n":3.9e-8},{"f":288,"s":"-100","n":7.2e-9},{"f":300,"s":"-100","n":9.5e-9},{"f":315,"s":"-100","n":6.8e-9},{"f":330,"s":"-100","n":9e-9},{"f":343,"s":"-100","n":6.5e-9},{"f":350,"s":"-100","n":2.0e-8},{"f":357,"s":"-100","n":6.5e-9},{"f":370,"s":"-100","n":8.5e-9},{"f":385,"s":"-100","n":6.2e-9},{"f":400,"s":"-100","n":8.2e-9},{"f":416,"s":"-100","n":6.2e-9},{"f":424,"s":"-100","n":2.37e-8},{"f":432,"s":"-100","n":6e-9},{"f":441,"s":"-100","n":7e-9},{"f":450,"s":"-100","n":1.7e-8},{"f":459,"s":"-100","n":6.3e-9},{"f":475,"s":"-100","n":8e-9},{"f":495,"s":"-100","n":5.8e-9},{"f":515,"s":"-100","n":9e-9},{"f":540,"s":"-100","n":5.5e-9},{"f":557,"s":"-100","n":7.5e-9},{"f":568,"s":"-100","n":1.4e-8},{"f":579,"s":"-100","n":5.4e-9},{"f":600,"s":"-100","n":8.5e-9},{"f":625,"s":"-100","n":5.2e-9},{"f":655,"s":"-100","n":9e-9},{"f":682,"s":"-100","n":5.5e-9},{"f":696,"s":"-100","n":1.45e-8},{"f":710,"s":"-100","n":4.8e-9},{"f":740,"s":"-100","n":8e-9},{"f":765,"s":"-100","n":5e-9},{"f":778,"s":"-100","n":1.48e-8},{"f":790,"s":"-100","n":4.6e-9},{"f":815,"s":"-100","n":7e-9},{"f":834,"s":"-100","n":1.48e-8},{"f":850,"s":"-100","n":3.6e-9},{"f":875,"s":"-100","n":7e-9},{"f":900,"s":"-100","n":3.4e-9},{"f":936,"s":"-100","n":7.7e-9},{"f":965,"s":"-100","n":3.2e-9},{"f":987,"s":"-100","n":1.15e-8},{"f":1010,"s":"-100","n":3.0e-9},{"f":1030,"s":"-100","n":5.5e-9},{"f":1057,"s":"-100","n":7.1e-9},{"f":1080,"s":"-100","n":2.8e-9},{"f":1120,"s":"-100","n":5.2e-9},{"f":1170,"s":"-100","n":7.2e-9},{"f":1200,"s":"-100","n":2.6e-9},{"f":1250,"s":"-100","n":5.5e-9},{"f":1300,"s":"-100","n":2.4e-9},{"f":1350,"s":"-100","n":4.8e-9},{"f":1390,"s":"-100","n":2.3e-9},{"f":1403,"s":"-100","n":8e-9},{"f":1420,"s":"-100","n":2.2e-9},{"f":1460,"s":"-100","n":4.2e-9},{"f":1520,"s":"-100","n":2.0e-9},{"f":1580,"s":"-100","n":3.5e-9},{"f":1596,"s":"-100","n":7.5e-9},{"f":1620,"s":"-100","n":2.0e-9},{"f":1680,"s":"-100","n":3.8e-9},{"f":1700,"s":"-100","n":6.5e-9},{"f":1720,"s":"-100","n":1.8e-9},{"f":1780,"s":"-100","n":3.2e-9},{"f":1850,"s":"-100","n":1.6e-9},{"f":1920,"s":"-100","n":2.8e-9},{"f":2000,"s":"-100","n":1.4e-9},{"f":2080,"s":"-100","n":2.4e-9},{"f":2160,"s":"-100","n":1.3e-9},{"f":2230,"s":"-100","n":2.0e-9},{"f":2260,"s":"-100","n":1.3e-9},{"f":2270,"s":"-100","n":2.1e-8},{"f":2300,"s":"-100","n":2.0e-8},{"f":2320,"s":"-100","n":1.5e-9},{"f":2400,"s":"-100","n":2.2e-9},{"f":2480,"s":"-100","n":1.1e-9},{"f":2560,"s":"-100","n":2.0e-9},{"f":2640,"s":"-100","n":1.05e-9},{"f":2730,"s":"-100","n":1.9e-9},{"f":2826,"s":"-100","n":1.0e-9},{"f":2920,"s":"-100","n":1.8e-9},{"f":3000,"s":"-100","n":9.8e-10},{"f":3040,"s":"-100","n":1.2e-9},{"f":3063,"s":"-100","n":8.6e-9},{"f":3090,"s":"-100","n":1.0e-9},{"f":3200,"s":"-100","n":1.7e-9},{"f":3330,"s":"-100","n":9.5e-10},{"f":3460,"s":"-100","n":1.6e-9},{"f":3600,"s":"-100","n":9e-10},{"f":3750,"s":"-100","n":1.6e-9},{"f":3900,"s":"-100","n":9e-10},{"f":4050,"s":"-100","n":1.5e-9},{"f":4200,"s":"-100","n":8.8e-10},{"f":4350,"s":"-100","n":1.5e-9},{"f":4500,"s":"-100","n":9e-10},{"f":4590,"s":"-100","n":1.4e-9},{"f":4624,"s":"-100","n":9.3e-9},{"f":4660,"s":"-100","n":9e-10},{"f":4750,"s":"-100","n":1.4e-9},{"f":4850,"s":"-100","n":9e-10},{"f":4930,"s":"-100","n":1.3e-9},{"f":4955,"s":"-100","n":9e-9},{"f":4975,"s":"-100","n":1.0e-9},{"f":5000,"s":"-100","n":1.3e-9}
]},
"layer": [
{"mark": {"type": "line", "strokeWidth": 3, "clip": true},
 "encoding": {
 "x": {"field": "f", "type": "quantitative",
  "scale": {"type": "log", "domain": [0.895, 5460], "nice": false},
  "axis": {"orient": "bottom", "values": [1,2,3,4,5,6,7,8,9,10,20,30,40,50,60,70,80,90,100,200,300,400,500,600,700,800,900,1000,2000,3000,4000,5000],
   "labelExpr": "datum.value == 1 ? '1' : datum.value == 10 ? '10' : datum.value == 100 ? '10²' : datum.value == 1000 ? '10³' : ''",
   "labelFontSize": 22, "labelFont": "Liberation Sans", "labelColor": "black", "labelPadding": 28, "labelOverlap": false, "labelFlush": false,
   "tickColor": "black", "tickWidth": 1,
   "tickSize": {"condition": {"test": "datum.value == 1 || datum.value == 10 || datum.value == 100 || datum.value == 1000", "value": -15}, "value": -9},
   "grid": true, "gridColor": "black", "gridDash": [1, 3], "gridOpacity": 1, "gridWidth": 1,
   "domainColor": "black", "domainWidth": 2,
   "title": "Frequency [Hz]", "titleFont": "Liberation Sans", "titleFontSize": 32, "titleFontWeight": "normal", "titleColor": "black",
   "titleAlign": "right", "titleAnchor": "end", "titleBaseline": "alphabetic", "titleX": 729, "titleY": 57}},
 "y": {"field": "n", "type": "quantitative",
  "scale": {"type": "log", "domain": [1e-10, 1e-7], "nice": false},
  "axis": {"values": [1e-10,2e-10,3e-10,4e-10,5e-10,6e-10,7e-10,8e-10,9e-10,1e-9,2e-9,3e-9,4e-9,5e-9,6e-9,7e-9,8e-9,9e-9,1e-8,2e-8,3e-8,4e-8,5e-8,6e-8,7e-8,8e-8,9e-8,1e-7],
   "labelExpr": "datum.value == 1e-10 ? '10⁻¹⁰' : datum.value == 1e-9 ? '10⁻⁹' : datum.value == 1e-8 ? '10⁻⁸' : datum.value == 1e-7 ? '10⁻⁷' : ''",
   "labelFontSize": 22, "labelFont": "Liberation Sans", "labelColor": "black", "labelPadding": 18, "labelOverlap": false, "labelFlush": false,
   "tickColor": "black", "tickWidth": 1,
   "tickSize": {"condition": {"test": "datum.value == 1e-10 || datum.value == 1e-9 || datum.value == 1e-8 || datum.value == 1e-7", "value": -15}, "value": -9},
   "grid": true, "gridColor": "black", "gridDash": [1, 3], "gridOpacity": 1, "gridWidth": 1,
   "domainColor": "black", "domainWidth": 2,
   "title": "Noise [nV/√Hz]", "titleFont": "Liberation Sans", "titleFontSize": 32, "titleFontWeight": "normal", "titleColor": "black",
   "titleAngle": -90, "titleAlign": "right", "titleAnchor": "end", "titleBaseline": "alphabetic", "titleX": -43, "titleY": 0}},
 "color": {"field": "s", "type": "nominal",
  "scale": {"domain": ["0","-10","-20","-30","-40","-50","-60","-70","-80","-90","-100"],
   "range": ["#000000","#05053a","#15158c","#0000ff","#3c3c9a","#2b2bff","#1f40ff","#336699","#009999","#00cccc","#00ffff"]},
  "legend": {"orient": "none", "legendX": 18, "legendY": 195, "title": null,
   "labelExpr": "'Vₑₗ = ' + datum.label + ' V'",
   "labelFontSize": 23, "labelFont": "Liberation Sans", "labelColor": "black", "labelLimit": 300, "labelOffset": 6,
   "symbolType": "stroke", "symbolStrokeWidth": 3, "symbolSize": 784,
   "strokeColor": "black", "fillColor": "white", "padding": 2, "rowPadding": 0.5, "cornerRadius": 0}}
 }},
{"mark": {"type": "line", "opacity": 0, "strokeOpacity": 0},
 "encoding": {
 "x": {"field": "f", "type": "quantitative",
  "scale": {"type": "log", "domain": [0.895, 5460], "nice": false},
  "axis": {"orient": "top", "labels": false, "ticks": false, "domain": false, "grid": false,
   "title": "Luke2, RUN 21 Ulisse cryostat, CSNSM", "titleFont": "Liberation Sans", "titleFontSize": 32, "titleFontWeight": "normal", "titleColor": "black",
   "titleAlign": "center", "titleAnchor": "middle", "titleBaseline": "alphabetic", "titleX": 367, "titleY": -27}},
 "y": {"field": "n", "type": "quantitative"}
 }}
],
"resolve": {"axis": {"x": "independent"}}
}
